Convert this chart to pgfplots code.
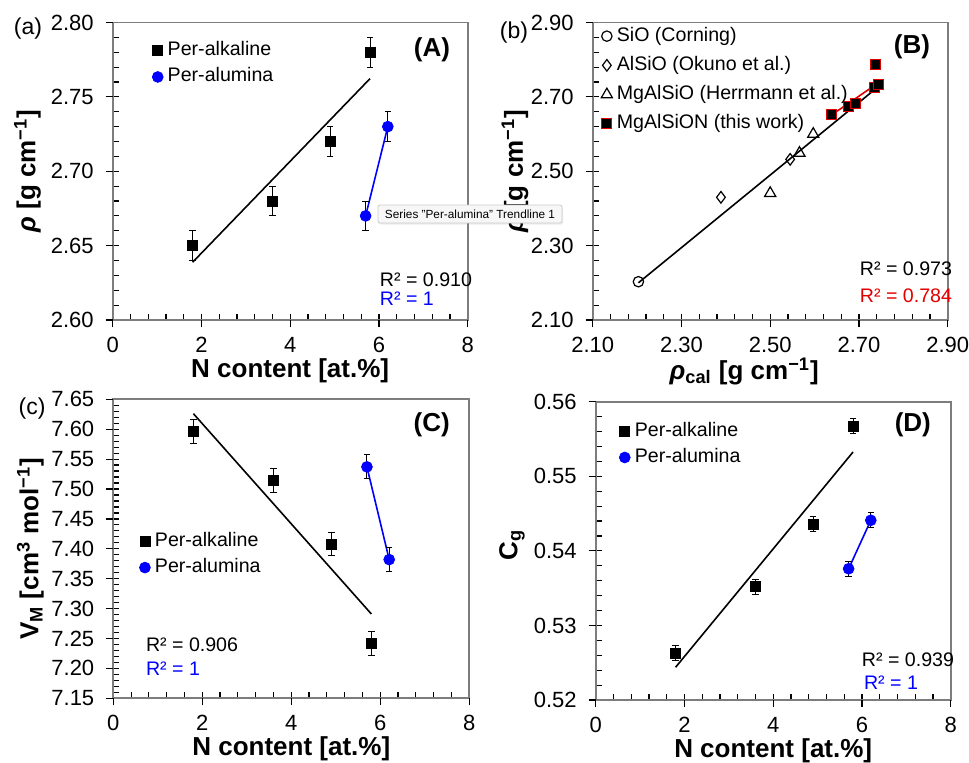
\documentclass[border=0pt]{standalone}
\usepackage{fontspec}
\setmainfont{Liberation Sans}
\usepackage{pgfplots}
\pgfplotsset{compat=1.18}
\usetikzlibrary{shadows}
\definecolor{axgray}{RGB}{125,125,125}
\definecolor{myblue}{RGB}{0,0,255}
\definecolor{myred}{RGB}{225,0,0}
\tikzset{
  panel/.style={font=\bfseries\fontsize{13}{15}\selectfont, anchor=east},
  rtext/.style={font=\fontsize{9.8}{11}\selectfont, anchor=base west},
}
\pgfplotsset{
  myaxis/.style={
    scale only axis, anchor=south west, clip=false,
    axis line style={draw=axgray, line width=0.9pt},
    xtick pos=bottom, ytick pos=left,
    tick align=inside,
    major tick length=3pt, minor tick length=3pt,
    tick style={black, line width=0.6pt},
    minor tick num=4,
    extra x tick labels={}, extra y tick labels={},
    extra x tick style={tick align=outside, major tick length=3.5pt},
    extra y tick style={tick align=outside, major tick length=3.5pt},
    tick label style={font=\fontsize{11}{13}\selectfont},
    /pgf/number format/assume math mode=true,
    xticklabel shift=5pt, yticklabel shift=6pt,
    label style={font=\bfseries\fontsize{13}{15}\selectfont},
    xlabel style={at={(axis description cs:0.5,0)}, anchor=base, yshift=-28.5pt},
    legend style={draw=none, fill=none, inner sep=0pt, font=\fontsize{9.8}{11}\selectfont,
      legend cell align=left, row sep=1.5pt,
      nodes={inner sep=0.8pt, text height=7.5pt, text depth=2.5pt}},
  },
  errbars/.style={/pgfplots/error bars/y dir=both, /pgfplots/error bars/y explicit,
    /pgfplots/error bars/error bar style={black, line width=0.5pt},
    /pgfplots/error bars/error mark options={rotate=90, black, mark size=1.6pt, line width=0.5pt}},
  legmark/.style={legend image code/.code={\draw[##1] plot coordinates {(0pt,0pt)}; \path[draw=none,fill=none] (-2.8pt,0pt) -- (4.2pt,0pt);}},
}
\begin{document}
\begin{tikzpicture}
% ---------- (a) ----------
\begin{axis}[myaxis, at={(56.35pt,-160pt)}, width=177.5pt, height=148.75pt,
  xmin=0, xmax=8, ymin=2.60, ymax=2.80, xtick={0,2,4,6,8}, ytick={2.60,2.65,2.70,2.75,2.80},
  extra x ticks={0,2,4,6,8}, extra y ticks={2.60,2.65,2.70,2.75,2.80},
  yticklabel style={/pgf/number format/.cd,fixed,fixed zerofill,precision=2},
  xlabel={N content [at.\%]},
  ylabel={\textit{ρ} [g cm\textsuperscript{−1}]},
  ylabel style={at={(axis description cs:-0.240,0.5)}, anchor=center},
  legend style={at={(axis description cs:0.110,0.861)}, anchor=west},
]
\addplot[black, line width=0.8pt, forget plot] coordinates {(1.8,2.6388) (5.8,2.7623)};
\addplot[myblue, line width=0.8pt, forget plot] coordinates {(5.7,2.67) (6.2,2.73)};
\addplot[only marks, mark=square*, black, mark size=2.5pt, errbars, legmark] table[y error=e] {
x y e
1.8 2.65 0.01
3.6 2.68 0.01
4.9 2.72 0.01
5.8 2.78 0.01
};
\addlegendentry{Per-alkaline}
\addplot[only marks, mark=*, myblue, mark size=2.7pt, errbars, legmark] table[y error=e] {
x y e
5.7 2.67 0.01
6.2 2.73 0.01
};
\addlegendentry{Per-alumina}
\node[panel] at (axis description cs:0.970,0.908) {(A)};
\node[rtext] at (axis description cs:0.733,0.112) {R² = 0.910};
\node[rtext, text=myblue] at (axis description cs:0.733,0.048) {R² = 1};
\end{axis}
% ---------- (b) ----------
\begin{axis}[myaxis, at={(296.35pt,-160pt)}, width=177.5pt, height=148.75pt,
  xmin=2.10, xmax=2.90, ymin=2.10, ymax=2.90,
  xtick={2.10,2.30,2.50,2.70,2.90}, ytick={2.10,2.30,2.50,2.70,2.90},
  extra x ticks={2.10,2.30,2.50,2.70,2.90}, extra y ticks={2.10,2.30,2.50,2.70,2.90},
  xticklabel style={/pgf/number format/.cd,fixed,fixed zerofill,precision=2},
  yticklabel style={/pgf/number format/.cd,fixed,fixed zerofill,precision=2},
  xlabel={\textit{ρ}\textsubscript{cal} [g cm\textsuperscript{−1}]},
  xlabel style={xshift=-13pt, yshift=-1pt},
  ylabel={\textit{ρ} [g cm\textsuperscript{−1}]},
  ylabel style={at={(axis description cs:-0.219,0.5)}, anchor=center},
  legend style={at={(axis description cs:0.023,0.807)}, anchor=west, row sep=3pt},
]
\addplot[black, line width=0.8pt, forget plot] coordinates {(2.203,2.200) (2.744,2.728)};
\addplot[only marks, mark=o, black, mark size=2.6pt, line width=0.6pt, legmark] coordinates {(2.203,2.203)};
\addlegendentry{SiO (Corning)}
\addplot[only marks, mark=diamond, black, mark size=2.9pt, line width=0.6pt, legmark] coordinates {(2.389,2.430) (2.545,2.532)};
\addlegendentry{AlSiO (Okuno et al.)}
\addplot[only marks, mark=triangle, black, mark size=3.2pt, line width=0.6pt, legmark] coordinates {(2.500,2.441) (2.566,2.549) (2.597,2.600)};
\addlegendentry{MgAlSiO (Herrmann et al.)}
\addplot[only marks, mark=square*, mark size=2.5pt, line width=0.5pt, mark options={fill=black, draw=myred}, legmark] coordinates {(2.639,2.654) (2.676,2.674) (2.693,2.683) (2.736,2.724) (2.744,2.732) (2.738,2.786)};
\addlegendentry{MgAlSiON (this work)}
\addplot[myred, line width=0.8pt, forget plot] coordinates {(2.639,2.652) (2.744,2.738)};
\node[panel] at (axis description cs:0.970,0.918) {(B)};
\node[rtext] at (axis description cs:0.733,0.149) {R² = 0.973};
\node[rtext, text=myred] at (axis description cs:0.733,0.058) {R² = 0.784};
\end{axis}
% ---------- (c) ----------
\begin{axis}[myaxis, at={(56.65pt,-349.15pt)}, width=178pt, height=149.5pt,
  xmin=0, xmax=8, ymin=7.15, ymax=7.65, xtick={0,2,4,6,8},
  ytick={7.15,7.20,7.25,7.30,7.35,7.40,7.45,7.50,7.55,7.60,7.65},
  extra x ticks={0,2,4,6,8}, extra y ticks={7.15,7.20,7.25,7.30,7.35,7.40,7.45,7.50,7.55,7.60,7.65},
  yticklabel style={/pgf/number format/.cd,fixed,fixed zerofill,precision=2},
  xlabel={N content [at.\%]},
  ylabel={V\textsubscript{M} [cm\textsuperscript{3} mol\textsuperscript{−1}]},
  ylabel style={at={(axis description cs:-0.233,0.5)}, anchor=center},
  legend style={at={(axis description cs:0.072,0.481)}, anchor=west},
]
\addplot[black, line width=0.8pt, forget plot] coordinates {(1.8,7.626) (5.8,7.291)};
\addplot[myblue, line width=0.8pt, forget plot] coordinates {(5.7,7.537) (6.2,7.382)};
\addplot[only marks, mark=square*, black, mark size=2.5pt, errbars, legmark] table[y error=e] {
x y e
1.8 7.596 0.02
3.6 7.514 0.02
4.9 7.408 0.02
5.8 7.242 0.02
};
\addlegendentry{Per-alkaline}
\addplot[only marks, mark=*, myblue, mark size=2.7pt, errbars, legmark] table[y error=e] {
x y e
5.7 7.537 0.02
6.2 7.382 0.02
};
\addlegendentry{Per-alumina}
\node[panel] at (axis description cs:0.965,0.914) {(C)};
\node[rtext] at (axis description cs:0.072,0.155) {R² = 0.906};
\node[rtext, text=myblue] at (axis description cs:0.072,0.075) {R² = 1};
\end{axis}
% ---------- (d) ----------
\begin{axis}[myaxis, at={(297.85pt,-350pt)}, width=177.5pt, height=149.15pt,
  xmin=0, xmax=8, ymin=0.52, ymax=0.56, xtick={0,2,4,6,8},
  ytick={0.52,0.53,0.54,0.55,0.56},
  extra x ticks={0,2,4,6,8}, extra y ticks={0.52,0.53,0.54,0.55,0.56},
  yticklabel style={/pgf/number format/.cd,fixed,fixed zerofill,precision=2},
  xlabel={N content [at.\%]},
  ylabel={C\textsubscript{g}},
  ylabel style={at={(axis description cs:-0.236,0.52)}, anchor=center},
  legend style={at={(axis description cs:0.065,0.857)}, anchor=west},
]
\addplot[black, line width=0.8pt, forget plot] coordinates {(1.8,0.52439) (5.8,0.55326)};
\addplot[myblue, line width=0.8pt, forget plot] coordinates {(5.7,0.5376) (6.2,0.5441)};
\addplot[only marks, mark=square*, black, mark size=2.5pt, errbars, legmark] table[y error=e] {
x y e
1.8 0.5263 0.001
3.6 0.5352 0.001
4.9 0.5436 0.001
5.8 0.5567 0.001
};
\addlegendentry{Per-alkaline}
\addplot[only marks, mark=*, myblue, mark size=2.7pt, errbars, legmark] table[y error=e] {
x y e
5.7 0.5376 0.001
6.2 0.5441 0.001
};
\addlegendentry{Per-alumina}
\node[panel] at (axis description cs:0.964,0.922) {(D)};
\node[rtext] at (axis description cs:0.730,0.114) {R² = 0.939};
\node[rtext, text=myblue] at (axis description cs:0.736,0.034) {R² = 1};
\end{axis}
% sub labels
\node[font=\fontsize{11.5}{13}\selectfont] at (14pt,-14.5pt) {(a)};
\node[font=\fontsize{11.5}{13}\selectfont] at (257pt,-16.5pt) {(b)};
\node[font=\fontsize{11.5}{13}\selectfont] at (16pt,-204.5pt) {(c)};
% tooltip
\node[draw=gray!40, fill=gray!6, rounded corners=1pt, drop shadow={opacity=0.15, shadow xshift=0.6pt, shadow yshift=-0.8pt},
  minimum width=92pt, minimum height=9pt, inner sep=0pt, font=\fontsize{5.9}{7}\selectfont]
  at (235pt,-107pt) {Series "Per-alumina" Trendline 1};
\pgfresetboundingbox
\path (0pt,0pt) rectangle (484.5pt,-381pt);
\end{tikzpicture}
\end{document}
